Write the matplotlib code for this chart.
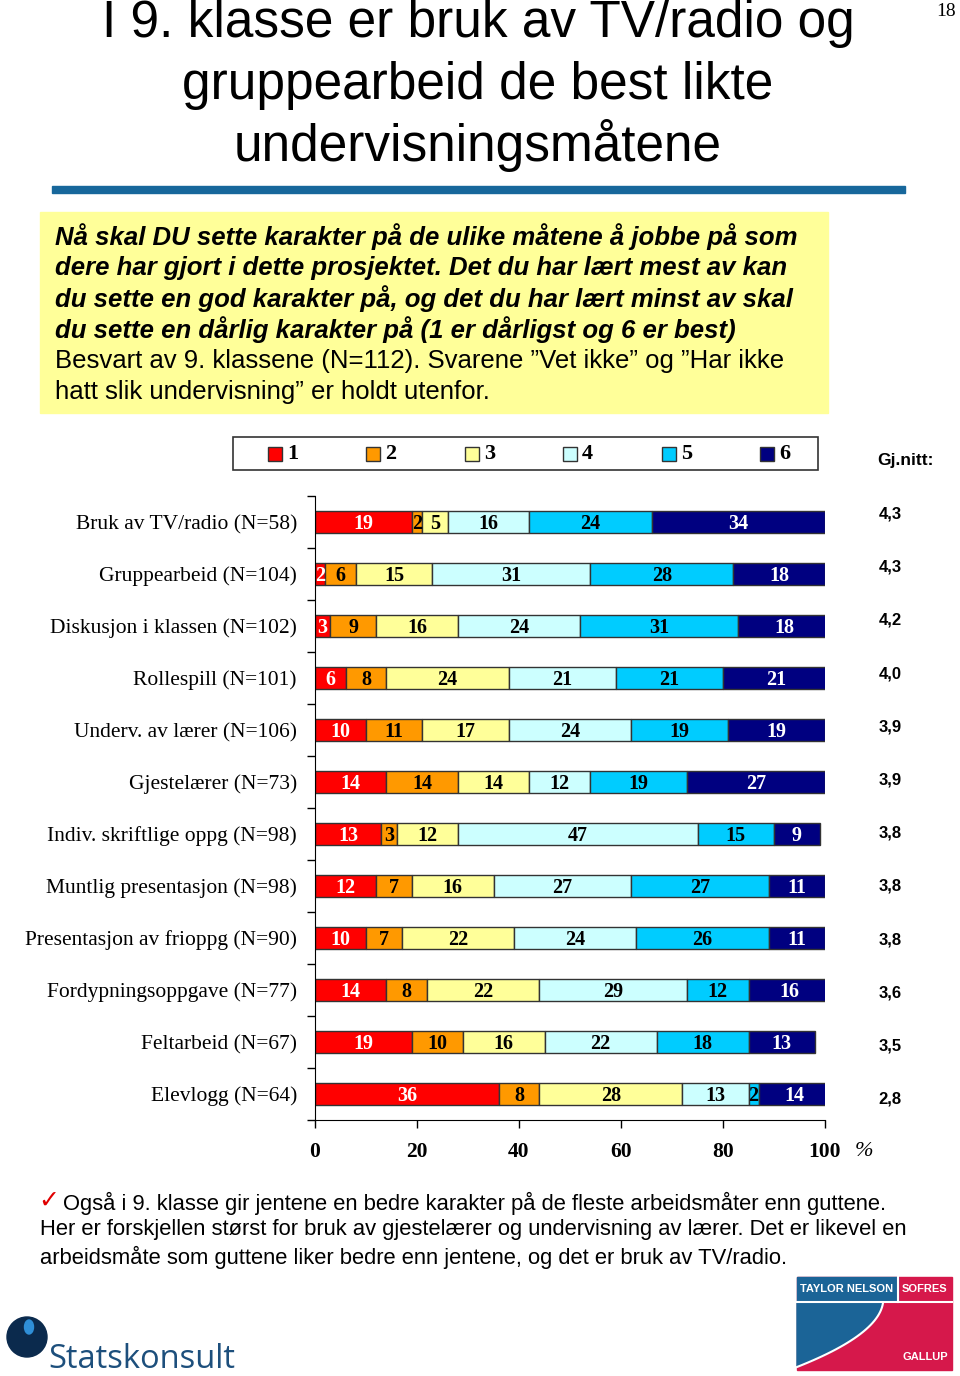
import numpy as np
import matplotlib.pyplot as plt
from matplotlib.patches import Rectangle, Circle, Ellipse, Polygon

categories = ["Bruk av TV/radio (N=58)", "Gruppearbeid (N=104)", "Diskusjon i klassen (N=102)",
              "Rollespill (N=101)", "Underv. av lærer (N=106)", "Gjestelærer (N=73)",
              "Indiv. skriftlige oppg (N=98)", "Muntlig presentasjon (N=98)",
              "Presentasjon av frioppg (N=90)", "Fordypningsoppgave (N=77)",
              "Feltarbeid (N=67)", "Elevlogg (N=64)"]
grade_labels = ["1", "2", "3", "4", "5", "6"]
g1 = [19, 2, 3, 6, 10, 14, 13, 12, 10, 14, 19, 36]
g2 = [2, 6, 9, 8, 11, 14, 3, 7, 7, 8, 10, 8]
g3 = [5, 15, 16, 24, 17, 14, 12, 16, 22, 22, 16, 28]
g4 = [16, 31, 24, 21, 24, 12, 47, 27, 24, 29, 22, 13]
g5 = [24, 28, 31, 21, 19, 19, 15, 27, 26, 12, 18, 2]
g6 = [34, 18, 18, 21, 19, 27, 9, 11, 11, 16, 13, 14]
averages = ["4,3", "4,3", "4,2", "4,0", "3,9", "3,9", "3,8", "3,8", "3,8", "3,6", "3,5", "2,8"]

colors = ["#ff0000", "#ff9900", "#ffff99", "#ccffff", "#00ccff", "#000080"]
text_colors = ["white", "black", "black", "black", "black", "white"]

serif = ["Liberation Serif", "DejaVu Serif"]
sans = ["Liberation Sans", "DejaVu Sans"]

fig = plt.figure(figsize=(9.6, 13.76), dpi=100)

# background layer in pixel coordinates for the slide decorations
bg = fig.add_axes([0, 0, 1, 1])
bg.set_xlim(0, 960)
bg.set_ylim(1376, 0)
bg.axis("off")

title_lines = ["I 9. klasse er bruk av TV/radio og", "gruppearbeid de best likte", "undervisningsmåtene"]
for i, line in enumerate(title_lines):
    bg.text(478, 24 + i * 61, line, ha="center", va="center", fontsize=37, family=sans)
bg.text(946, 12, "18", ha="center", va="center", fontsize=14, family=serif)
bg.add_patch(Rectangle((52, 186), 853, 7, color="#17679b"))

bg.add_patch(Rectangle((40, 212), 788, 201, color="#ffff99"))
box_bold = ["Nå skal DU sette karakter på de ulike måtene å jobbe på som",
            "dere har gjort i dette prosjektet. Det du har lært mest av kan",
            "du sette en god karakter på, og det du har lært minst av skal",
            "du sette en dårlig karakter på (1 er dårligst og 6 er best)"]
box_plain = ["Besvart av 9. klassene (N=112). Svarene ”Vet ikke” og ”Har ikke",
             "hatt slik undervisning” er holdt utenfor."]
for i, line in enumerate(box_bold + box_plain):
    bold = i < len(box_bold)
    bg.text(55, 237 + i * 31, line, ha="left", va="center", fontsize=18.5, family=sans,
            fontweight="bold" if bold else "normal", fontstyle="italic" if bold else "normal")

bg.text(877, 460, "Gj.nitt:", ha="left", va="center", fontsize=12.5, fontweight="bold", family=sans)

# bottom comment
bg.text(38, 1201, "✓", ha="left", va="center", fontsize=18, color="#e00000", family=["DejaVu Sans"])
bottom = ["Også i 9. klasse gir jentene en bedre karakter på de fleste arbeidsmåter enn guttene.",
          "Her er forskjellen størst for bruk av gjestelærer og undervisning av lærer. Det er likevel en",
          "arbeidsmåte som guttene liker bedre enn jentene, og det er bruk av TV/radio."]
bg.text(63, 1203, bottom[0], ha="left", va="center", fontsize=15.8, family=sans)
bg.text(40, 1230, bottom[1], ha="left", va="center", fontsize=15.8, family=sans)
bg.text(40, 1257, bottom[2], ha="left", va="center", fontsize=15.8, family=sans)

# Statskonsult logo
bg.add_patch(Circle((27, 1337), 20, color="#0b2a4d"))
bg.add_patch(Ellipse((29, 1327), 9, 14, color="#2f8fd8"))
bg.text(48, 1360, "Statskonsult", ha="left", va="center", fontsize=23.5, color="#1d4f7c",
        family=["Open Sans", "DejaVu Sans"])

# TNS Gallup logo
bg.add_patch(Rectangle((797, 1277), 155, 93, color="#d6184b"))
bg.add_patch(Rectangle((797, 1277), 101, 24, color="#1b6497"))
t = np.linspace(0, 1, 30)
cx = 883 - 10 * t - 76 * t ** 2
cy = 1303 + 64 * t
bg.add_patch(Polygon(np.column_stack([np.r_[797, cx], np.r_[1303, cy]]), color="#1b6497"))
bg.plot([797, 952], [1302, 1302], color="white", lw=1.5)
bg.plot([898, 898], [1277, 1302], color="white", lw=1.5)
bg.plot(cx, cy, color="white", lw=1.5)
bg.text(847, 1289, "TAYLOR NELSON", ha="center", va="center", fontsize=8, fontweight="bold", color="white", family=sans)
bg.text(925, 1289, "SOFRES", ha="center", va="center", fontsize=8, fontweight="bold", color="white", family=sans)
bg.text(925, 1357, "GALLUP", ha="center", va="center", fontsize=8, fontweight="bold", color="white", family=sans)

# legend (boxed, entries evenly spread like the original)
bg.add_patch(Rectangle((233, 437), 585, 33, facecolor="white", edgecolor="#333333", linewidth=1.2))
for i, (lab, col) in enumerate(zip(grade_labels, colors)):
    x0 = 268 + i * 98.4
    bg.add_patch(Rectangle((x0, 447), 14, 14, facecolor=col, edgecolor="#333333", linewidth=1))
    bg.text(x0 + 19, 454, lab, ha="left", va="center", fontsize=16, fontweight="bold", family=serif)

# chart
ax = fig.add_axes([315 / 960, 1 - 1120 / 1376, 510 / 960, 624 / 1376])
series = [g1, g2, g3, g4, g5, g6]
y = np.arange(len(categories))
left = np.zeros(len(categories))
for vals, col, tcol in zip(series, colors, text_colors):
    vals = np.array(vals)
    ax.barh(y, vals, left=left, height=0.43, color=col, edgecolor="#333333", linewidth=1)
    for yi, l, v in zip(y, left, vals):
        ax.text(l + v / 2, yi + 0.03, str(v), ha="center", va="center", fontsize=14.5,
                fontweight="bold", color=tcol, family=serif)
    left += vals

ax.set_xlim(0, 100)
ax.set_ylim(len(categories) - 0.5, -0.5)
ax.set_yticks(y)
ax.set_yticklabels(categories, fontsize=15.5, family=serif)
ax.set_yticks(np.arange(len(categories) + 1) - 0.5, minor=True)
ax.tick_params(axis="y", which="major", length=0, pad=13)
ax.tick_params(axis="y", which="minor", length=6, direction="out", width=1)
ax.set_xticks([0, 20, 40, 60, 80, 100])
ax.set_xticklabels(["0", "20", "40", "60", "80", "100"], fontsize=15.5, fontweight="bold", family=serif)
ax.tick_params(axis="x", length=6, width=1, direction="out", pad=10)
ax.spines["top"].set_visible(False)
ax.spines["right"].set_visible(False)
bg.text(864, 1152, "%", ha="center", va="center", fontsize=16, fontstyle="italic", family=serif)

# averages in the right column
for i, a in enumerate(averages):
    bg.text(890, 514 + i * 53.2, a, ha="center", va="center", fontsize=12, fontweight="bold", family=sans)

fig.savefig("out.png", dpi=100)
